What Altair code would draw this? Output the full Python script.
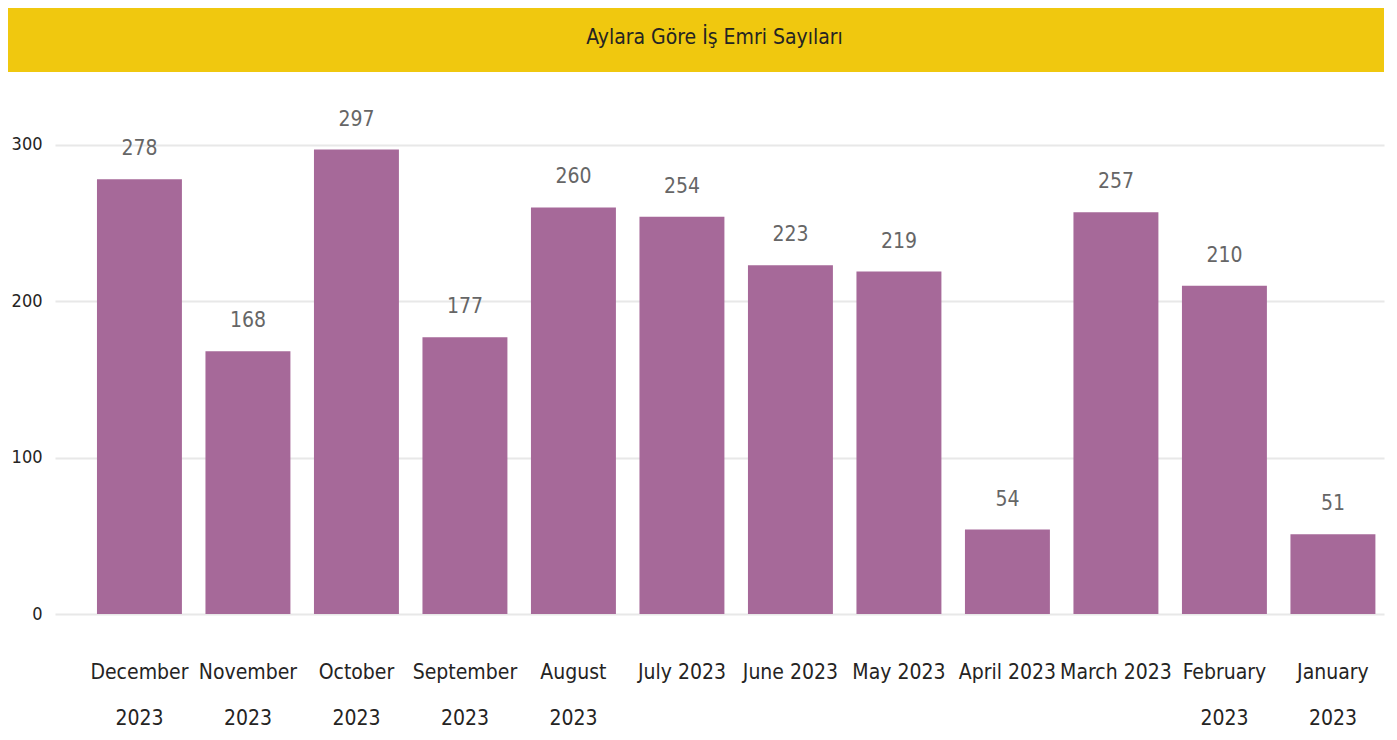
import altair as alt
import pandas as pd

months = ["December 2023", "November 2023", "October 2023", "September 2023",
          "August 2023", "July 2023", "June 2023", "May 2023", "April 2023",
          "March 2023", "February 2023", "January 2023"]
counts = [278, 168, 297, 177, 260, 254, 223, 219, 54, 257, 210, 51]
y_ticks = [0, 100, 200, 300]
title_text = "Aylara Göre İş Emri Sayıları"

FONT = "DejaVu Sans Condensed, Liberation Sans Narrow, sans-serif"
W, H = 1329, 516

df = pd.DataFrame({"month": months, "count": counts})

x = alt.X("month:N", sort=months, title=None,
          scale=alt.Scale(paddingInner=0.217, paddingOuter=0.233, align=0.83),
          axis=alt.Axis(labelAngle=0, labelFont=FONT, labelFontSize=21,
                        labelColor="#252423", labelPadding=47, labelLineHeight=46,
                        labelBaseline="top", ticks=False, domain=False, grid=False,
                        labelExpr="length(datum.label) > 10 ? split(datum.label, ' ') : datum.label"))
y = alt.Y("count:Q", title=None,
          scale=alt.Scale(domain=[0, 330], nice=False),
          axis=alt.Axis(values=y_ticks, labelFont=FONT, labelFontSize=18,
                        labelColor="#252423", labelPadding=13, ticks=False,
                        domain=False, gridColor="#E8E8E8", gridWidth=2))

bars = alt.Chart(df).mark_bar(color="#A66999").encode(x=x, y=y)
labels = alt.Chart(df).mark_text(font=FONT, fontSize=21, color="#666666",
                                 baseline="bottom", dy=-20).encode(
    x=alt.X("month:N", sort=months), y="count:Q", text="count:Q")

deco = pd.DataFrame({"title": [title_text]})
band = alt.Chart(deco).mark_rect(color="#F0C80F").encode(
    x=alt.value(-47), x2=alt.value(W), y=alt.value(-90), y2=alt.value(-26))
title = alt.Chart(deco).mark_text(font=FONT, fontSize=21, color="#252423",
                                  baseline="middle", align="center").encode(
    x=alt.value(W / 2 - 5), y=alt.value(-60), text="title:N")

chart = alt.layer(band, title, bars, labels).properties(
    width=W, height=H,
    autosize=alt.AutoSizeParams(type="none"),
    padding={"left": 47, "top": 90, "right": 4, "bottom": 115},
).configure(background="white", view=alt.ViewConfig(strokeWidth=0))

chart.save("out.html", embed_options={"renderer": "svg", "actions": False})
